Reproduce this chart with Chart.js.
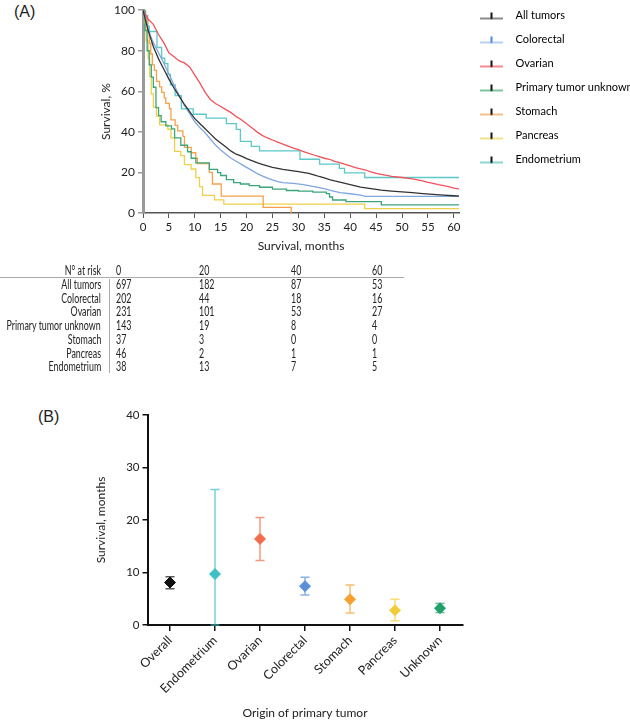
<!DOCTYPE html>
<html>
<head>
<meta charset="utf-8">
<script src="https://cdn.jsdelivr.net/npm/chart.js@4.4.1/dist/chart.umd.min.js"></script>
<style>
  body { margin: 0; background: #fff; width: 630px; height: 720px; position: relative; overflow: hidden; }
  .tag { position: absolute; font: 16px "Liberation Sans", Arial, sans-serif; color: #222; }
  #wrapA { position: absolute; left: 0; top: 0; width: 630px; height: 258px; }
  #wrapB { position: absolute; left: 0; top: 400px; width: 480px; height: 320px; }
  #risk { position: absolute; left: 0; top: 0; width: 630px; height: 400px; font: 12.5px Lato, "Open Sans", sans-serif; color: #222; pointer-events: none; }
  #risk span { position: absolute; line-height: 14px; white-space: nowrap; transform: scaleX(0.71); }
  #risk span.r { transform-origin: right center; }
  #risk span.l { transform-origin: left center; }
  .hline { position: absolute; left: 0; top: 277px; width: 404px; height: 1px; background: #aaa; }
  .vline { position: absolute; left: 109px; top: 279px; width: 1px; height: 94px; background: #aaa; }
</style>
</head>
<body>
<div class="tag" style="left:14px;top:3px">(A)</div>
<div class="tag" style="left:38px;top:408px">(B)</div>
<div id="wrapA"><canvas id="kmChart"></canvas></div>
<div id="risk"><div class="hline"></div><div class="vline"></div></div>
<div id="wrapB"><canvas id="medianChart"></canvas></div>
<script>
// ---- Panel A: Kaplan-Meier curves, [month, survival %] ----
const allTumors = [[0,100],[0.5,95],[1,90],[1.5,86],[2,82],[2.5,79],[3,76],[3.5,73.5],[4,71],[5,66],[6,61.5],[7,57.5],[8,53.5],[9,50],[10,46.5],[11,44],[12,41.5],[13,39],[14,36.5],[15,34.5],[16,32.5],[17,30.5],[18,29],[19,28],[20,26.8],[21,25.8],[22,24.8],[23,24],[24,23.2],[25,22.5],[26,22],[27,21.5],[28,21.1],[30,20.4],[32,19.5],[33,18.8],[34,18],[35,17.3],[36,16.5],[37,15.8],[38,15.2],[40,14],[42,12.8],[44,12],[46,11.3],[48,10.8],[50,10.4],[52,10],[54,9.6],[56,9.2],[58,8.8],[60,8.5],[61,8.3]];
const colorectal = [[0,100],[0.5,96],[1,91],[1.5,87],[2,84],[3,79],[4,74],[5,68.5],[6,63],[7,58],[8,53],[9,49],[10,45],[11,42],[12,39.5],[13,36.5],[14,33.5],[15,31],[16,29],[17,27],[18,25.5],[19,24],[20,22.5],[21,21],[22,19.5],[23,18.3],[24,17.2],[25,16.3],[26,15.5],[27,15],[29,14.6],[31,14],[33,13],[35,12],[36,11.3],[37,10.7],[38,10],[40,9.5],[42,8.8],[43,8.2],[61,8.2]];
const ovarian = [[0,100],[1,95.5],[2,93],[3,88],[4,84],[5,79],[6,77],[7,75],[8,74],[9,72],[10,68],[11,64],[12,59.5],[13,56],[14,54],[15,52.5],[16,51],[17,49.5],[18,47.5],[19,46],[20,44],[21,42],[22,40],[23,38.3],[24,37],[25,36],[26,35],[27,34],[28,33],[29,32],[30,31.2],[31,30.3],[32,29.4],[33,28.6],[34,27.8],[35,27],[36,26.5],[37,25.5],[38,24.8],[39,24],[40,23.2],[41,22.4],[42,21.8],[43,21.2],[44,20.3],[45,19.5],[46,19],[47,18.5],[48,18.1],[50,17.5],[52,16.8],[54,15.8],[55,15.1],[56,14.6],[57,14],[58,13.5],[59,13],[60,12.3],[61,11.9]];
const unknownPrimary = [[0,100],[0.4,90],[0.8,80],[1.2,73],[1.6,67],[2,62],[2.5,52],[3,48],[3.5,45],[4.4,43],[5.5,41.5],[6.1,37],[7.3,33.4],[8.6,30.2],[9.3,27],[10.2,24.7],[12.8,21.5],[14.4,19.9],[15,18.5],[16.1,16.5],[17.5,15],[18.8,14.3],[20.5,13.5],[22.5,12.7],[25,11.8],[27.7,11.1],[30,10.8],[32.8,10.3],[35.4,9.6],[36,7.9],[36.6,6.4],[39.2,5.6],[46,4],[61,4]];
const stomach = [[0,100],[0.4,97.3],[0.7,94.6],[0.9,89.2],[1.2,83.8],[1.5,78.4],[1.8,73],[2.2,70.3],[2.6,64.9],[3.2,62.2],[3.6,59.5],[4.1,56.8],[4.4,54.1],[5.1,51.4],[5.4,45.9],[6.2,43.2],[6.7,40.5],[7.7,37.8],[8,32.4],[9.3,29.7],[10.2,27],[10.5,24.3],[12.8,20],[13.4,14.3],[15.1,8.3],[23.2,2.8],[28.6,0]];
const pancreas = [[0,100],[0.3,93.5],[0.6,84.8],[1,76.1],[1.3,67.4],[1.6,58.7],[2,52.2],[2.6,47.8],[3.2,43.5],[4.8,41.3],[5.4,37],[6.1,30.4],[7.3,28.3],[8,23.9],[9.3,21.7],[10.2,17.4],[10.9,13],[11.5,8.7],[13.8,6.5],[15.6,4.4],[42.8,2.2],[61,2.2]];
const endometrium = [[0,100],[0.5,97.4],[0.9,92.1],[1.2,89.5],[2.7,81.6],[3.6,76.3],[4.2,73.7],[4.8,68.4],[5.3,63.2],[6.2,57.9],[7.4,51.3],[9.7,48.7],[12.2,46.8],[16.1,44.1],[18,41.2],[18.8,35.3],[20.9,32.9],[22.5,30.6],[30.3,26.5],[34.1,24.1],[37.9,22],[38.9,19.8],[42.8,17.5],[61,17.5]];

const kmLabels = ['All tumors', 'Colorectal', 'Ovarian', 'Primary tumor unknown', 'Stomach', 'Pancreas', 'Endometrium'];
const kmSeries = [allTumors, colorectal, ovarian, unknownPrimary, stomach, pancreas, endometrium];
const kmColors = ['#333333', '#7fa6e0', '#f2525c', '#3aa578', '#f5a04a', '#f0d04a', '#5cc8c8'];
const kmLegendColors = ['#8a8a8a', '#b9cfee', '#f38a8e', '#7cc49e', '#f7c08a', '#f3e08a', '#8bd6d6'];
const kmTickColors = ['#111', '#4f86d6', '#111', '#111', '#111', '#111', '#111'];
const kmStepped = [false, false, false, true, true, true, true];

// ---- risk table ----
const riskTimes = [0, 20, 40, 60];
const riskAll = [697, 182, 87, 53];
const riskColorectal = [202, 44, 18, 16];
const riskOvarian = [231, 101, 53, 27];
const riskUnknown = [143, 19, 8, 4];
const riskStomach = [37, 3, 0, 0];
const riskPancreas = [46, 2, 1, 1];
const riskEndometrium = [38, 13, 7, 5];

// ---- Panel B: median survival with 95% CI ----
const originLabels = ['Overall', 'Endometrium', 'Ovarian', 'Colorectal', 'Stomach', 'Pancreas', 'Unknown'];
const medianMonths = [8.1, 9.7, 16.4, 7.4, 4.9, 2.8, 3.2];
const ciLow = [6.9, 0, 12.3, 5.7, 2.3, 0.8, 2.4];
const ciHigh = [9.2, 25.8, 20.5, 9.1, 7.6, 4.9, 4.1];
const originColors = ['#111111', '#3cbfc6', '#f26b4a', '#5a8fd8', '#f7a030', '#f2cd3a', '#22a06b'];

const fontMain = 'Lato, "Open Sans", sans-serif';

// legend icons: light line with a small dark censor tick
function legendIcon(lineColor, tickColor) {
  const c = document.createElement('canvas');
  c.width = 40; c.height = 12;
  const g = c.getContext('2d');
  g.strokeStyle = lineColor; g.lineWidth = 2;
  g.beginPath(); g.moveTo(9, 9); g.lineTo(32, 9); g.stroke();
  g.strokeStyle = tickColor; g.lineWidth = 2;
  g.beginPath(); g.moveTo(20.5, 3); g.lineTo(20.5, 9.5); g.stroke();
  return c;
}
const legendIcons = kmLabels.map((_, i) => legendIcon(kmLegendColors[i], kmTickColors[i]));

// nudge the legend block up so the first entry sits level with the top of the plot
const legendNudge = {
  id: 'legendNudge',
  afterLayout(chart) {
    if (chart.legend) { chart.legend.top -= 7; chart.legend.bottom -= 7; }
  }
};

new Chart(document.getElementById('kmChart'), {
  type: 'line',
  data: {
    datasets: kmSeries.map((s, i) => ({
      label: kmLabels[i],
      data: s.map(p => ({ x: p[0], y: p[1] })),
      borderColor: kmColors[i],
      borderWidth: 1.3,
      pointRadius: 0,
      stepped: kmStepped[i],
      tension: 0,
      fill: false
    }))
  },
  plugins: [legendNudge],
  options: {
    responsive: true,
    maintainAspectRatio: false,
    animation: false,
    layout: { padding: { left: 95, top: 4, right: 0, bottom: 0 } },
    plugins: {
      tooltip: { enabled: false },
      legend: {
        position: 'right',
        align: 'start',
        maxWidth: 171,
        labels: {
          usePointStyle: true,
          pointStyleWidth: 38,
          padding: 13,
          color: '#222',
          font: { family: fontMain, size: 11 },
          generateLabels: chart => chart.data.datasets.map((d, i) => ({
            text: d.label,
            pointStyle: legendIcons[i],
            fillStyle: 'rgba(0,0,0,0)',
            strokeStyle: 'rgba(0,0,0,0)',
            lineWidth: 0,
            hidden: false,
            datasetIndex: i
          }))
        }
      }
    },
    scales: {
      x: {
        type: 'linear',
        min: 0,
        max: 61,
        afterFit: s => { s.height = 45; },
        border: { color: '#555', width: 1.5 },
        grid: { drawOnChartArea: false, drawTicks: true, tickLength: 5, color: '#555', lineWidth: 1 },
        ticks: { stepSize: 5, includeBounds: false, color: '#222', padding: 2, font: { family: fontMain, size: 11.5 } },
        title: { display: true, text: 'Survival, months', color: '#222', padding: { top: 2, bottom: 5 }, font: { family: fontMain, size: 12 } }
      },
      y: {
        min: 0,
        max: 100,
        afterFit: s => { s.width = 48; },
        border: { color: '#9a9a9a', width: 3 },
        grid: { drawOnChartArea: false, drawTicks: true, tickLength: 5, color: '#9a9a9a', lineWidth: 1.5 },
        ticks: { stepSize: 20, color: '#222', padding: 3, font: { family: fontMain, size: 12 } },
        title: { display: true, text: 'Survival, %', color: '#222', padding: { top: 4, bottom: 2 }, font: { family: fontMain, size: 12 } }
      }
    }
  }
});

// risk table text
(function buildRisk() {
  const risk = document.getElementById('risk');
  const rows = [riskAll, riskColorectal, riskOvarian, riskUnknown, riskStomach, riskPancreas, riskEndometrium];
  const colX = [116, 199, 291, 372];
  const rowY = [270.7, 285, 298.7, 312.4, 326.1, 339.8, 353.5, 367.2];
  function put(text, x, y, right) {
    const sp = document.createElement('span');
    sp.textContent = text;
    sp.style.top = (y - 7) + 'px';
    if (right) { sp.className = 'r'; sp.style.right = (630 - x) + 'px'; }
    else { sp.className = 'l'; sp.style.left = x + 'px'; }
    risk.appendChild(sp);
  }
  put('N° at risk', 101, rowY[0], true);
  riskTimes.forEach((t, j) => put(String(t), colX[j], rowY[0], false));
  rows.forEach((r, i) => {
    put(kmLabels[i], 101, rowY[i + 1], true);
    r.forEach((v, j) => put(String(v), colX[j], rowY[i + 1], false));
  });
})();

// error bars drawn through the chart's own scales
const errorBars = {
  id: 'errorBars',
  beforeDatasetsDraw(chart) {
    const { ctx, scales: { x, y } } = chart;
    ctx.save();
    medianMonths.forEach((m, i) => {
      const px = x.getPixelForValue(i);
      const top = y.getPixelForValue(ciHigh[i]);
      const bot = y.getPixelForValue(ciLow[i]);
      ctx.strokeStyle = originColors[i];
      ctx.globalAlpha = 0.7;
      ctx.lineWidth = 1.5;
      ctx.beginPath();
      ctx.moveTo(px, top); ctx.lineTo(px, bot);
      ctx.moveTo(px - 4.5, top); ctx.lineTo(px + 4.5, top);
      ctx.moveTo(px - 4.5, bot); ctx.lineTo(px + 4.5, bot);
      ctx.stroke();
    });
    ctx.restore();
  }
};

new Chart(document.getElementById('medianChart'), {
  type: 'line',
  data: {
    labels: originLabels,
    datasets: [{
      label: 'Median survival',
      data: medianMonths,
      showLine: false,
      pointStyle: 'rectRot',
      pointRadius: 5.5,
      pointBackgroundColor: originColors,
      pointBorderColor: originColors,
      pointBorderWidth: 1
    }]
  },
  plugins: [errorBars],
  options: {
    responsive: true,
    maintainAspectRatio: false,
    animation: false,
    layout: { padding: { left: 90, top: 15, right: 17.5, bottom: 0 } },
    plugins: { legend: { display: false }, tooltip: { enabled: false } },
    scales: {
      x: {
        offset: true,
        afterFit: s => { s.height = 95; },
        border: { color: '#111', width: 2 },
        grid: { offset: false, drawOnChartArea: false, drawTicks: true, tickLength: 6, color: '#111', lineWidth: 1.5 },
        ticks: { minRotation: 45, maxRotation: 45, color: '#222', padding: 2, font: { family: fontMain, size: 12.5 } },
        title: { display: true, text: 'Origin of primary tumor', color: '#222', padding: { top: 0, bottom: 0 }, font: { family: fontMain, size: 12 } }
      },
      y: {
        min: 0,
        max: 40,
        afterFit: s => { s.width = 57.5; },
        border: { color: '#111', width: 2 },
        grid: { drawOnChartArea: false, drawTicks: true, tickLength: 5, color: '#111', lineWidth: 1.5 },
        ticks: { stepSize: 10, color: '#222', padding: 3, font: { family: fontMain, size: 11.5 } },
        title: { display: true, text: 'Survival, months', color: '#222', padding: { top: 4, bottom: 2 }, font: { family: fontMain, size: 12 } }
      }
    }
  }
});
</script>
</body>
</html>
